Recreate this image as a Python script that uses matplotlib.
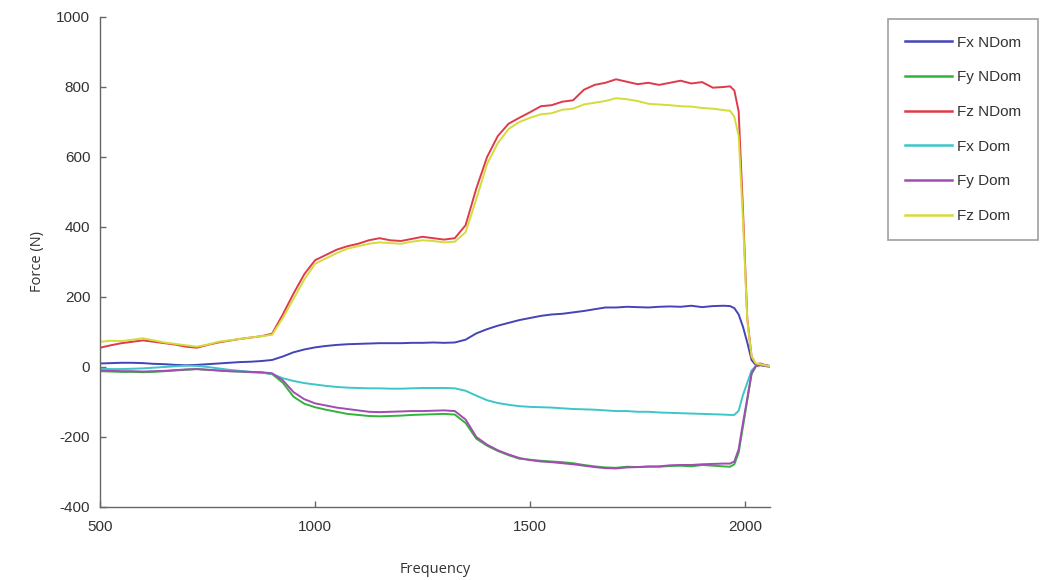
import matplotlib
matplotlib.use("Agg")
import matplotlib.pyplot as plt

plt.rcParams["axes.unicode_minus"] = False

freq = [500, 525, 550, 575, 600, 625, 650, 675, 700, 725, 750, 775, 800, 825, 850, 875,
        900, 925, 950, 975, 1000, 1025, 1050, 1075, 1100, 1125, 1150, 1175, 1200, 1225,
        1250, 1275, 1300, 1325, 1350, 1375, 1400, 1425, 1450, 1475, 1500, 1525, 1550,
        1575, 1600, 1625, 1650, 1675, 1700, 1725, 1750, 1775, 1800, 1825, 1850, 1875,
        1900, 1925, 1950, 1965, 1975, 1985, 1995, 2005, 2015, 2025, 2035, 2045, 2058]

fx_ndom = [10, 11, 12, 12, 11, 9, 8, 6, 5, 6, 8, 10, 12, 14, 15, 17,
           20, 30, 42, 50, 56, 60, 63, 65, 66, 67, 68, 68, 68, 69,
           69, 70, 69, 70, 78, 96, 108, 118, 126, 134, 140, 146, 150,
           152, 156, 160, 165, 170, 170, 172, 171, 170, 172, 173, 172, 175,
           171, 174, 175, 174, 168, 150, 115, 70, 20, 5, 8, 5, 3]

fy_ndom = [-12, -13, -14, -14, -15, -14, -12, -10, -8, -6, -8, -10, -12, -13, -15, -16,
           -20, -45, -85, -105, -115, -122, -128, -134, -137, -140, -141, -140, -139, -137,
           -136, -135, -134, -136, -160, -205, -225, -240, -252, -262, -265, -268, -270,
           -272, -275, -280, -284, -287, -288, -285, -286, -284, -285, -283, -282, -284,
           -280, -282, -284, -285, -278, -245, -170, -95, -20, 2, 6, 3, 1]

fz_ndom = [55, 62, 68, 72, 76, 72, 68, 64, 58, 55, 63, 70, 75, 80, 84, 88,
           95, 150, 210, 265, 305, 320, 335, 345, 352, 362, 368, 362, 360, 366,
           372, 368, 364, 368, 405, 510, 600, 660, 695, 712, 728, 745, 748,
           758, 762, 792, 806, 812, 822, 815, 808, 812, 806, 812, 818, 810,
           814, 798, 800, 802, 790, 730, 450, 140, 30, 8, 10, 6, 2]

fx_dom = [-5, -6, -6, -5, -4, -2, 0, 2, 4, 3, 0, -4, -8, -11, -14, -16,
          -20, -32, -40, -46, -50, -54, -57, -59, -60, -61, -61, -62, -62, -61,
          -60, -60, -60, -61, -68, -82, -95, -103, -108, -112, -114, -115, -116,
          -118, -120, -121, -122, -124, -126, -126, -128, -128, -130, -131, -132, -133,
          -134, -135, -136, -137, -137, -125, -80, -45, -10, 2, 6, 4, 2]

fy_dom = [-10, -11, -12, -12, -13, -12, -11, -9, -7, -6, -8, -10, -12, -13, -14, -15,
          -18, -38, -72, -92, -104, -110, -116, -120, -124, -128, -129, -128, -127, -126,
          -126, -125, -124, -126, -150, -200, -222, -238, -250, -260, -266, -270, -272,
          -275, -278, -282, -286, -289, -290, -287, -286, -285, -284, -281, -280, -280,
          -278, -277, -276, -276, -270, -235, -160, -90, -18, 3, 5, 3, 1]

fz_dom = [72, 75, 74, 78, 82, 76, 70, 66, 62, 58, 64, 72, 76, 80, 84, 88,
          92, 140, 195, 250, 295, 310, 325, 338, 345, 352, 356, 354, 352, 358,
          362, 360, 356, 358, 385, 480, 580, 640, 680, 700, 712, 722, 725,
          735, 738, 750, 755, 760, 768, 765, 760, 752, 750, 748, 745, 744,
          740, 738, 734, 732, 715, 660, 420, 135, 30, 10, 8, 5, 2]

series = [
    ("Fx NDom", fx_ndom, "#4444b8"),
    ("Fy NDom", fy_ndom, "#33b33a"),
    ("Fz NDom", fz_ndom, "#e03a4a"),
    ("Fx Dom", fx_dom, "#3cc6c8"),
    ("Fy Dom", fy_dom, "#a24bb3"),
    ("Fz Dom", fz_dom, "#d4dc3c"),
]

xticks = [500, 1000, 1500, 2000]
yticks = [-400, -200, 0, 200, 400, 600, 800, 1000]

fig = plt.figure(figsize=(10.54, 5.8), dpi=100)
ax = fig.add_axes([0.0949, 0.1259, 0.6357, 0.8448])

for name, vals, col in series:
    ax.plot(freq, vals, color=col, lw=1.4, label=name)

ax.set_xlim(500, 2058)
ax.set_ylim(-400, 1000)
ax.set_xticks(xticks)
ax.set_yticks(yticks)
for s in ["top", "right"]:
    ax.spines[s].set_visible(False)
for s in ["left", "bottom"]:
    ax.spines[s].set_color("#666666")
    ax.spines[s].set_linewidth(1.0)
ax.tick_params(direction="in", length=4, width=1, color="#666666",
               labelcolor="#333333")
ax.tick_params(axis="x", pad=9.5)
ax.tick_params(axis="y", pad=7)
for lab in ax.get_xticklabels() + ax.get_yticklabels():
    lab.set_family("Liberation Sans")
    lab.set_fontsize(11)

ax.set_xlabel("Frequency", family="Open Sans", fontsize=10.5, color="#333333", labelpad=20)
ax.set_ylabel("Force (N)", family="Open Sans", fontsize=10.5, color="#333333", labelpad=8)

leg = fig.legend(loc="upper left", bbox_to_anchor=(888 / 1054, 1 - 19 / 580),
                 bbox_transform=fig.transFigure, borderaxespad=0,
                 prop={"family": "Liberation Sans", "size": 11},
                 handlelength=3.1, handletextpad=0.3, labelspacing=1.35,
                 borderpad=1.1, fancybox=False, frameon=True)
leg.get_frame().set_edgecolor("#888888")
leg.get_frame().set_linewidth(1.2)
for t in leg.get_texts():
    t.set_color("#333333")
for l in leg.get_lines():
    l.set_linewidth(1.8)

fig.savefig("out.png", dpi=100)
